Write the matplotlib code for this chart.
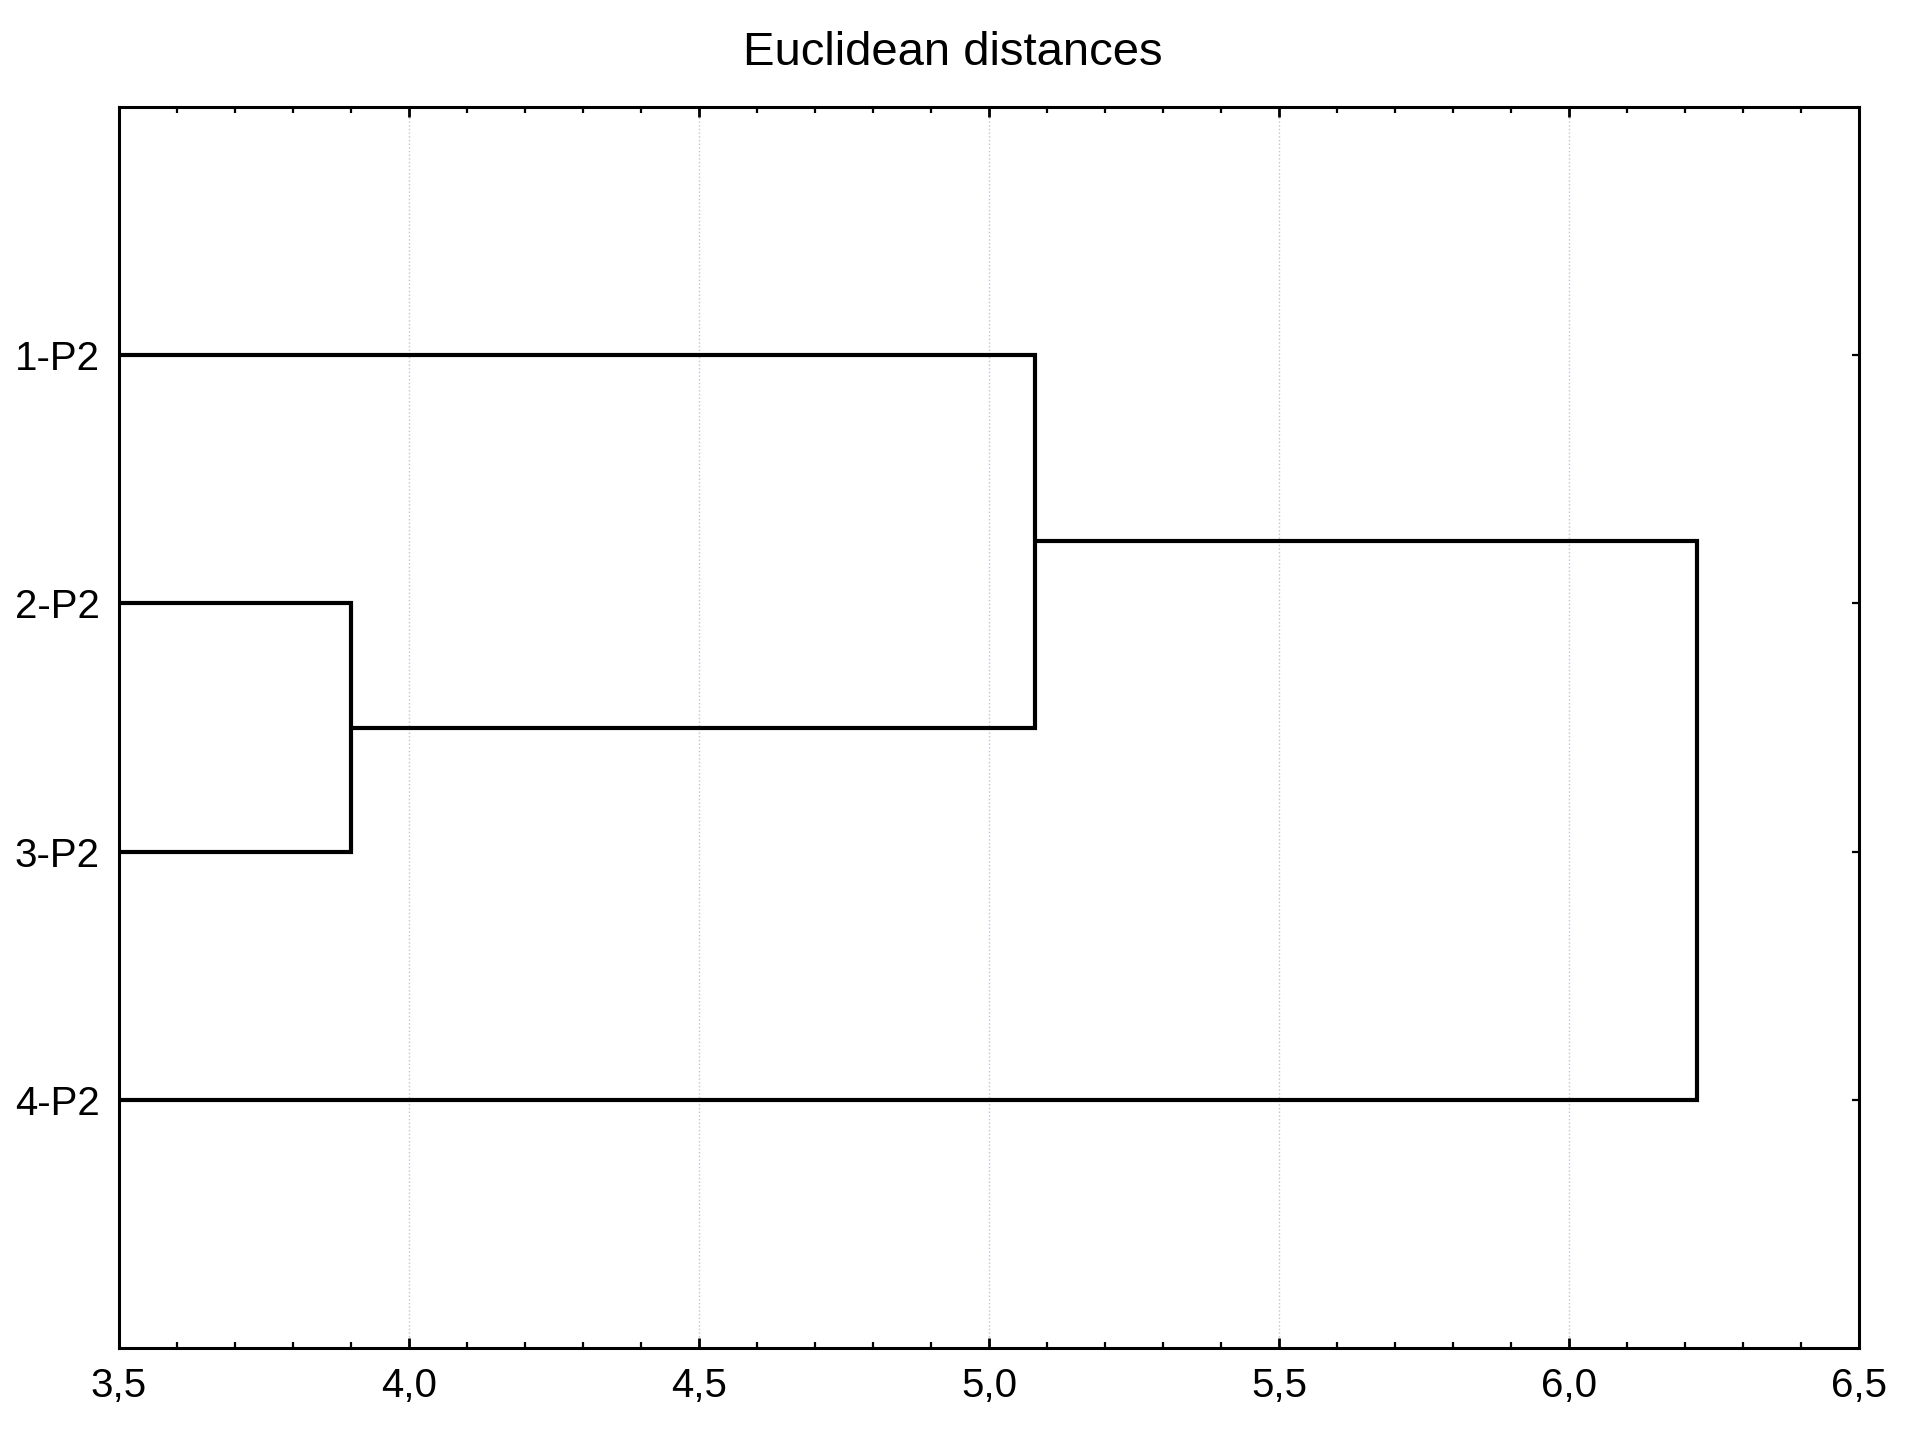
import matplotlib
matplotlib.use('Agg')
import matplotlib.pyplot as plt
from matplotlib.ticker import MultipleLocator, FuncFormatter

plt.rcParams['font.family'] = ['Liberation Sans', 'DejaVu Sans']

# leaves, top to bottom
leaves = ['1-P2', '2-P2', '3-P2', '4-P2']
leaf_pos = [1, 2, 3, 4]
# linkage distances: (2,3), (1,(2,3)), (all)
merge_23 = 3.90
merge_1_23 = 5.08
merge_all = 6.22
x_min = 3.5

fig = plt.figure(figsize=(19.06, 14.31), dpi=100)
ax = fig.add_axes([119 / 1906, 1 - 1348 / 1431, 1740 / 1906, 1241 / 1431])

lw = 3.0
kw = dict(color='black', lw=lw, solid_capstyle='butt', solid_joinstyle='miter')

# cluster (2,3)
y2, y3 = leaf_pos[1], leaf_pos[2]
ax.plot([x_min, merge_23, merge_23, x_min], [y2, y2, y3, y3], **kw)
y23 = (y2 + y3) / 2

# cluster (1,(2,3))
y1 = leaf_pos[0]
ax.plot([x_min, merge_1_23, merge_1_23, merge_23], [y1, y1, y23, y23], **kw)
y123 = (y1 + y23) / 2

# top cluster with 4
y4 = leaf_pos[3]
ax.plot([merge_1_23, merge_all, merge_all, x_min], [y123, y123, y4, y4], **kw)

ax.set_xlim(3.5, 6.5)
ax.set_ylim(5, 0)
ax.xaxis.set_major_locator(MultipleLocator(0.5))
ax.xaxis.set_minor_locator(MultipleLocator(0.1))
ax.xaxis.set_major_formatter(FuncFormatter(lambda v, p: f'{v:.1f}'.replace('.', ',')))
ax.set_yticks(leaf_pos)
ax.set_yticklabels(leaves)

ax.tick_params(axis='x', which='major', direction='in', length=7, width=2.0,
               top=True, labelsize=29, pad=14)
ax.tick_params(axis='x', which='minor', direction='in', length=4.5, width=1.6, top=True)
ax.tick_params(axis='y', which='major', direction='in', length=5, width=1.6,
               right=True, left=False, labelsize=29, pad=14)

ax.grid(axis='x', which='major', color='#c8bde0', linestyle=':', linewidth=1.0)
ax.set_axisbelow(True)
for s in ax.spines.values():
    s.set_linewidth(2.2)

fig.text(0.5, 1 - 53 / 1431, 'Euclidean distances', fontsize=34,
         ha='center', va='center')

fig.savefig('out.png', dpi=100)
